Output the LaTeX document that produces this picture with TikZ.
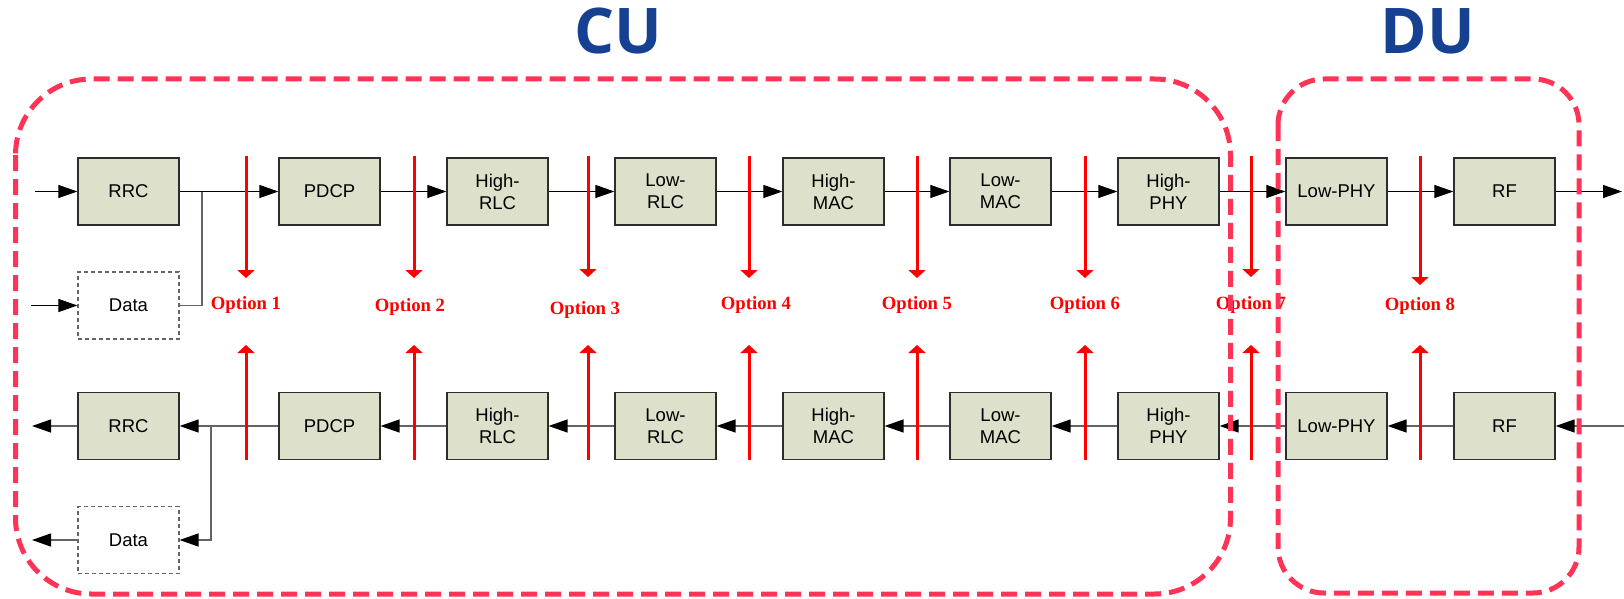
\documentclass[tikz,border=0pt]{standalone}
\usepackage{fontspec}
\setmainfont{Liberation Sans}
\newfontfamily\optfont{Liberation Serif}
\newfontfamily\titlefont{Open Sans}
\usetikzlibrary{arrows.meta}
\definecolor{boxfill}{RGB}{221,224,202}
\definecolor{dashred}{RGB}{255,51,85}
\definecolor{titleblue}{RGB}{22,64,146}
\definecolor{linegray}{RGB}{45,45,45}
\definecolor{upgray}{RGB}{100,100,100}
\begin{document}
\begin{tikzpicture}[x=1pt,y=-1pt,
  blk/.style={draw=linegray, line width=1.2pt, fill=boxfill, minimum width=101pt, minimum height=67pt, inner sep=0pt, align=center, font=\fontsize{18.5}{22}\selectfont},
  databox/.style={draw=upgray, line width=1.1pt, dash pattern=on 4pt off 3pt, fill=white, minimum width=101pt, minimum height=67pt, inner sep=0pt, align=center, font=\fontsize{18.5}{22}\selectfont},
  flow/.style={draw=black, line width=1pt, -{Triangle[length=19pt,width=13pt,black]}},
  flowB/.style={draw=upgray, line width=1.3pt, -{Triangle[length=19pt,width=13pt,black]}},
  plain/.style={draw=upgray, line width=1.3pt},
  cut/.style={draw=red, line width=3pt, -{Triangle[length=8pt,width=17pt]}},
  optlbl/.style={text=red, font=\optfont\bfseries\fontsize{18.7}{20}\selectfont, inner sep=0pt},
  region/.style={draw=dashred, line width=5pt, dash pattern=on 16pt off 8pt},
  title/.style={text=titleblue, font=\titlefont\bfseries\fontsize{63}{70}\selectfont, inner sep=0pt}
]
\useasboundingbox (0,0) rectangle (1624,599);

% titles
\node[title] (cu) at (618,31) {CU};
\node[title] (du) at (1428,31) {DU};

% top row (downlink)
\node[blk] (rrc)  at (128.5,191.5) {RRC};
\node[databox] (data) at (128.5,305.5) {Data};
\node[blk] (pdcp) at (329.5,191.5) {PDCP};
\node[blk] (hrlc) at (497.5,191.5) {High-\\RLC};
\node[blk] (lrlc) at (665.5,191.5) {Low-\\RLC};
\node[blk] (hmac) at (833.5,191.5) {High-\\MAC};
\node[blk] (lmac) at (1000.5,191.5) {Low-\\MAC};
\node[blk] (hphy) at (1168.5,191.5) {High-\\PHY};
\node[blk] (lphy) at (1336.5,191.5) {Low-PHY};
\node[blk] (rf)   at (1504.5,191.5) {RF};

% bottom row (uplink)
\node[blk] (rrcB)  at (128.5,426) {RRC};
\node[databox] (dataB) at (128.5,540) {Data};
\node[blk] (pdcpB) at (329.5,426) {PDCP};
\node[blk] (hrlcB) at (497.5,426) {High-\\RLC};
\node[blk] (lrlcB) at (665.5,426) {Low-\\RLC};
\node[blk] (hmacB) at (833.5,426) {High-\\MAC};
\node[blk] (lmacB) at (1000.5,426) {Low-\\MAC};
\node[blk] (hphyB) at (1168.5,426) {High-\\PHY};
\node[blk] (lphyB) at (1336.5,426) {Low-PHY};
\node[blk] (rfB)   at (1504.5,426) {RF};

% free ends
\coordinate (inA) at (35,191.5);
\coordinate (inD) at (31,305.5);
\coordinate (jA) at (202,191.5);
\coordinate (outA) at (1622,191.5);
\coordinate (inB) at (1624,426);
\coordinate (jB) at (211,426);
\coordinate (outR) at (32,426);
\coordinate (outD) at (32,540);

% top connectors
\draw[flow] (inA) -- (rrc.west);
\draw[flow] (inD) -- (data.west);
\draw[plain] (data.east) -| (jA);
\draw[flow] (rrc.east) -- (pdcp.west);
\draw[flow] (pdcp.east) -- (hrlc.west);
\draw[flow] (hrlc.east) -- (lrlc.west);
\draw[flow] (lrlc.east) -- (hmac.west);
\draw[flow] (hmac.east) -- (lmac.west);
\draw[flow] (lmac.east) -- (hphy.west);
\draw[flow] (hphy.east) -- (lphy.west);
\draw[flow] (lphy.east) -- (rf.west);
\draw[flow] (rf.east) -- (outA);

% bottom connectors
\draw[flowB] (inB) -- (rfB.east);
\draw[flowB] (rfB.west) -- (lphyB.east);
\draw[flowB] (lphyB.west) -- (hphyB.east);
\draw[flowB] (hphyB.west) -- (lmacB.east);
\draw[flowB] (lmacB.west) -- (hmacB.east);
\draw[flowB] (hmacB.west) -- (lrlcB.east);
\draw[flowB] (lrlcB.west) -- (hrlcB.east);
\draw[flowB] (hrlcB.west) -- (pdcpB.east);
\draw[flowB] (pdcpB.west) -- (rrcB.east);
\draw[flowB] (jB) |- (dataB.east);
\draw[flowB] (rrcB.west) -- (outR);
\draw[flowB] (dataB.west) -- (outD);

% split options
\foreach \n/\x/\lx/\ly/\tip in {1/246/246/305/278, 2/414/410/307/278, 3/588/585/310/277, 4/749/756/305/278, 5/917/917/305/278, 6/1085/1085/305/278, 7/1251/1251/305/277, 8/1420/1420/306/285}{
  \coordinate (dt\n) at (\x,156);
  \coordinate (dh\n) at (\x,\tip);
  \coordinate (ut\n) at (\x,460);
  \coordinate (uh\n) at (\x,345);
  \draw[cut] (dt\n) -- (dh\n);
  \draw[cut] (ut\n) -- (uh\n);
  \node[optlbl] (opt\n) at (\lx,\ly) {Option \n};
}

% CU / DU regions
\draw[region, rounded corners=76pt] (15.5,79) rectangle (1230.5,594);
\draw[region, rounded corners=46pt] (1278,79) rectangle (1579,593);
\end{tikzpicture}
\end{document}
